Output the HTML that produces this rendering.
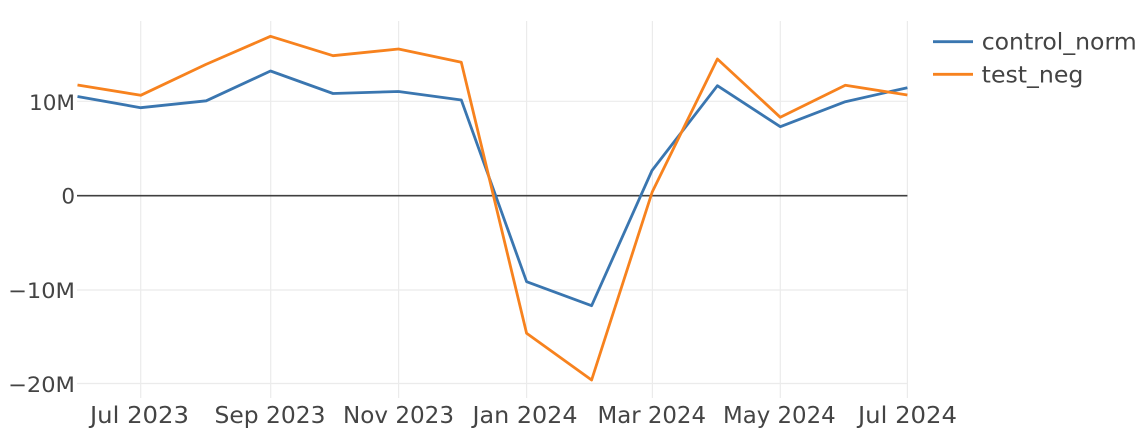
<!DOCTYPE html>
<html>
<head>
<meta charset="utf-8">
<style>
  html, body { margin: 0; padding: 0; background: #ffffff; }
  svg { display: block; }
  text { font-family: "DejaVu Sans", "Liberation Sans", sans-serif; fill: #444444; }
</style>
</head>
<body>
<svg width="1147" height="433" viewBox="0 0 1147 433" xmlns="http://www.w3.org/2000/svg">
  <rect x="0" y="0" width="1147" height="433" fill="#ffffff"/>
  <!-- vertical gridlines -->
  <g stroke="#ebebeb" stroke-width="1.2">
    <line x1="140.7" y1="21" x2="140.7" y2="398"/>
    <line x1="270.7" y1="21" x2="270.7" y2="398"/>
    <line x1="398.6" y1="21" x2="398.6" y2="398"/>
    <line x1="526.6" y1="21" x2="526.6" y2="398"/>
    <line x1="652.4" y1="21" x2="652.4" y2="398"/>
    <line x1="780.3" y1="21" x2="780.3" y2="398"/>
    <line x1="907.4" y1="21" x2="907.4" y2="398"/>
    <!-- horizontal gridlines -->
    <line x1="77" y1="101.3" x2="907.4" y2="101.3"/>
    <line x1="77" y1="290" x2="907.4" y2="290"/>
    <line x1="77" y1="383.5" x2="907.4" y2="383.5"/>
  </g>
  <!-- zero line -->
  <line x1="77" y1="195.7" x2="907.4" y2="195.7" stroke="#3f3f3f" stroke-width="1.7"/>

  <!-- series -->
  <polyline fill="none" stroke="#3a76b0" stroke-width="2.8" stroke-linejoin="round"
    points="77.5,96.5 140.7,107.7 206.2,100.8 270.5,71 333,93.5 398.5,91.5 461.3,100 526.6,281.7 591.6,305.7 652,170.5 717.4,85.7 780.3,126.7 845.3,101.7 907.4,87.7"/>
  <polyline fill="none" stroke="#f7821e" stroke-width="2.8" stroke-linejoin="round"
    points="77.5,85 140.7,95.3 205.7,64.5 270.5,36.3 333,55.7 398.5,49 461.3,62.3 526.6,333.3 591.6,380 652.2,192 717.4,59 780.3,117.3 845.3,85.3 907.4,95"/>

  <!-- y tick labels -->
  <g font-size="21.5" text-anchor="end">
    <text x="75" y="110" textLength="46" lengthAdjust="spacingAndGlyphs">10M</text>
    <text x="75" y="203.5">0</text>
    <text x="75" y="298" textLength="67" lengthAdjust="spacingAndGlyphs">−10M</text>
    <text x="75" y="391.8" textLength="67" lengthAdjust="spacingAndGlyphs">−20M</text>
  </g>

  <!-- x tick labels -->
  <g font-size="23">
    <text x="90" y="423" textLength="99" lengthAdjust="spacingAndGlyphs">Jul 2023</text>
    <text x="214.5" y="423" textLength="111" lengthAdjust="spacingAndGlyphs">Sep 2023</text>
    <text x="343" y="423" textLength="111" lengthAdjust="spacingAndGlyphs">Nov 2023</text>
    <text x="472.5" y="423" textLength="105" lengthAdjust="spacingAndGlyphs">Jan 2024</text>
    <text x="597.5" y="423" textLength="108.5" lengthAdjust="spacingAndGlyphs">Mar 2024</text>
    <text x="723" y="423" textLength="112.7" lengthAdjust="spacingAndGlyphs">May 2024</text>
    <text x="858" y="423" textLength="99" lengthAdjust="spacingAndGlyphs">Jul 2024</text>
  </g>

  <!-- legend -->
  <line x1="933" y1="41.7" x2="973" y2="41.7" stroke="#3a76b0" stroke-width="2.8"/>
  <text x="981.7" y="49.5" font-size="23.5" textLength="155" lengthAdjust="spacingAndGlyphs">control_norm</text>
  <line x1="933" y1="74.3" x2="973" y2="74.3" stroke="#f7821e" stroke-width="2.8"/>
  <text x="981.7" y="82.5" font-size="23.5" textLength="101.7" lengthAdjust="spacingAndGlyphs">test_neg</text>
</svg>
</body>
</html>
